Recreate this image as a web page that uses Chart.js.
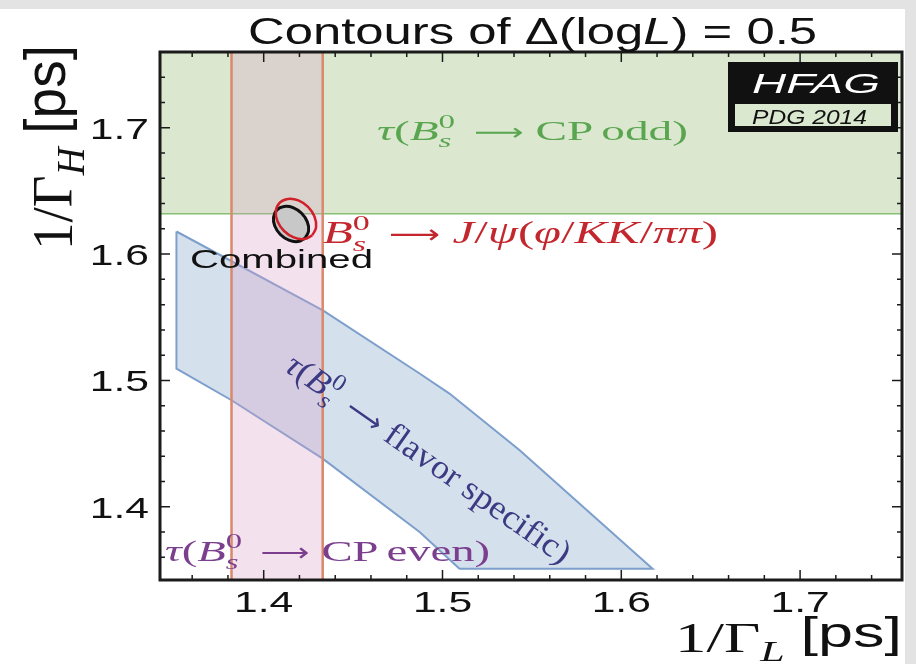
<!DOCTYPE html>
<html>
<head>
<meta charset="utf-8">
<script src="https://cdn.jsdelivr.net/npm/chart.js@4.4.1/dist/chart.umd.min.js"></script>
<style>
  html, body { margin: 0; padding: 0; background: #fff; }
  #wrap { width: 916px; height: 664px; }
</style>
</head>
<body>
<div id="wrap"><canvas id="chart" width="916" height="664"></canvas></div>
<script>
// axis ranges (1/Gamma_L on x, 1/Gamma_H on y), in ps
const xMin = 1.342, xMax = 1.757;
const yMin = 1.342, yMax = 1.760;
const xTicks = [1.4, 1.5, 1.6, 1.7];
const yTicks = [1.4, 1.5, 1.6, 1.7];
const xTickLabels = ['1.4', '1.5', '1.6', '1.7'];
const yTickLabels = ['1.4', '1.5', '1.6', '1.7'];

// tau(Bs -> CP odd): lower bound of the band
const cpOddLow = 1.632;
// tau(Bs -> CP even): band in 1/Gamma_L
const cpEvenLow = 1.382, cpEvenHigh = 1.433;

// tau(Bs -> flavor specific) contour
const flavorX = [1.3512, 1.4331, 1.4872, 1.5039, 1.5430, 1.6175, 1.5095, 1.4872, 1.4328, 1.3820, 1.3512, 1.3512];
const flavorY = [1.6179, 1.5555, 1.5055, 1.4896, 1.4449, 1.3510, 1.3510, 1.3800, 1.4383, 1.4843, 1.5094, 1.6179];

// combined contour
const combX = [1.4232, 1.4191, 1.4141, 1.4093, 1.4062, 1.4055, 1.4074, 1.4114, 1.4164, 1.4212, 1.4244, 1.4251, 1.4232];
const combY = [1.6127, 1.6099, 1.6110, 1.6155, 1.6222, 1.6293, 1.6350, 1.6377, 1.6368, 1.6323, 1.6255, 1.6184, 1.6127];

// Bs -> J/psi(phi/KK/pipi) contour
const jpsiX = [1.4272, 1.4226, 1.4168, 1.4114, 1.4077, 1.4068, 1.4090, 1.4135, 1.4194, 1.4248, 1.4284, 1.4293, 1.4272];
const jpsiY = [1.6149, 1.6119, 1.6132, 1.6183, 1.6260, 1.6342, 1.6407, 1.6437, 1.6425, 1.6373, 1.6297, 1.6214, 1.6149];

const pts = (xs, ys) => xs.map((x, i) => ({ x, y: ys[i] }));

const SERIF = '"Liberation Serif", "DejaVu Serif", serif';
const SANS = '"Liberation Sans", Arial, sans-serif';
const ARROW = '"DejaVu Sans", sans-serif';

function fontOf(s, size) {
  const fam = s.fam || (s.sans ? SANS : SERIF);
  return (s.it ? 'italic ' : '') + (size * (s.k || 1)).toFixed(1) + 'px ' + fam;
}

// lay out a run of text pieces (sub/superscripts, italics, mixed families);
// a piece with `w` is stretched to that many ems
function measure(ctx, segs, size) {
  let x = 0, held = 0;
  const pos = [], nat = [];
  segs.forEach(s => {
    x += (s.pad || 0) * size;
    ctx.font = fontOf(s, size);
    const n = ctx.measureText(s.t).width;
    const w = s.w ? s.w * size : n;
    pos.push(x); nat.push(n);
    if (s.hold) held = w;
    else { x += Math.max(w, held); held = 0; }
  });
  return { pos, nat, width: x };
}

function drawRich(ctx, segs, o) {
  const m = measure(ctx, segs, o.size);
  const sx = o.width ? o.width / m.width : (o.sx || 1);
  const start = o.align === 'center' ? -m.width / 2 : o.align === 'right' ? -m.width : 0;
  ctx.save();
  ctx.translate(o.x, o.y);
  if (o.angle) ctx.rotate(o.angle * Math.PI / 180);
  ctx.scale(sx, o.sy || 1);
  ctx.fillStyle = o.color || '#111';
  ctx.textAlign = 'left';
  ctx.textBaseline = 'alphabetic';
  segs.forEach((s, i) => {
    ctx.font = fontOf(s, o.size);
    const px = start + m.pos[i], py = (s.dy || 0) * o.size;
    if (s.w) {
      ctx.save();
      ctx.translate(px, py);
      ctx.scale(s.w * o.size / m.nat[i], 1);
      ctx.fillText(s.t, 0, 0);
      ctx.restore();
    } else {
      ctx.fillText(s.t, px, py);
    }
  });
  ctx.restore();
}

const Bs = [{ t: 'B', it: 1 }, { t: '0', k: 0.7, dy: -0.42, hold: 1 }, { t: 's', it: 1, k: 0.7, dy: 0.25 }];
const arrow = { t: '⟶', fam: ARROW, k: 0.85, w: 1.05, pad: 0.4 };
const afterArrow = 0.25;

const backdrop = {
  id: 'backdrop',
  beforeDraw(chart) {
    const ctx = chart.ctx;
    ctx.save();
    ctx.fillStyle = '#e3e3e3';
    ctx.fillRect(0, 0, chart.width, chart.height);
    ctx.fillStyle = '#ffffff';
    ctx.fillRect(0, 9, 905, chart.height - 9);
    ctx.restore();
  }
};

const frame = {
  id: 'frame',
  afterDatasetsDraw(chart) {
    const { ctx, chartArea: a, scales: { x, y } } = chart;
    ctx.save();
    ctx.strokeStyle = '#1b1b1b';
    ctx.lineWidth = 1.5;
    ctx.beginPath();
    for (let k = 68; k <= 87; k++) {
      const px = x.getPixelForValue(k / 50);
      const len = k % 5 === 0 ? 10 : 5;
      ctx.moveTo(px, a.bottom); ctx.lineTo(px, a.bottom - len);
      ctx.moveTo(px, a.top); ctx.lineTo(px, a.top + len);
    }
    for (let k = 68; k <= 87; k++) {
      const py = y.getPixelForValue(k / 50);
      const len = k % 5 === 0 ? 10 : 5;
      ctx.moveTo(a.left, py); ctx.lineTo(a.left + len, py);
      ctx.moveTo(a.right, py); ctx.lineTo(a.right - len, py);
    }
    ctx.stroke();
    ctx.lineWidth = 3;
    ctx.strokeRect(a.left, a.top, a.right - a.left, a.bottom - a.top);
    ctx.restore();
  }
};

const labels = {
  id: 'labels',
  afterDraw(chart) {
    const { ctx, scales: { x, y } } = chart;

    xTicks.forEach((v, i) => drawRich(ctx, [{ t: xTickLabels[i], sans: 1 }],
      { x: x.getPixelForValue(v), y: 612, size: 30, sx: 1.42, align: 'center' }));
    yTicks.forEach((v, i) => drawRich(ctx, [{ t: yTickLabels[i], sans: 1 }],
      { x: 149, y: y.getPixelForValue(v) + 11, size: 30, sx: 1.42, align: 'right' }));

    // title
    drawRich(ctx, [{ t: 'Contours of Δ(log', sans: 1 }, { t: 'L', sans: 1, it: 1 }, { t: ') = 0.5', sans: 1 }],
      { x: 248, y: 44, size: 37, width: 569 });

    // axis titles
    drawRich(ctx, [{ t: '1/Γ' }, { t: 'L', it: 1, k: 0.7, dy: 0.22 }, { t: '[ps]', sans: 1, pad: 0.25, dy: -0.12 }],
      { x: 902, y: 652, size: 42, width: 227, align: 'right' });
    drawRich(ctx, [{ t: '1/Γ' }, { t: 'H', it: 1, k: 0.7, dy: 0.22 }, { t: '[ps]', sans: 1, pad: 0.25, dy: -0.12 }],
      { x: 72, y: 250, size: 42, width: 205, sy: 1.35, angle: -90 });

    // HFAG badge
    ctx.save();
    ctx.fillStyle = '#111';
    ctx.fillRect(728, 62, 170, 70);
    ctx.fillStyle = '#d9e8cf';
    ctx.fillRect(735, 104, 156, 22);
    ctx.restore();
    drawRich(ctx, [{ t: 'HFAG', sans: 1, it: 1 }], { x: 752, y: 93, size: 28, width: 128, color: '#fff' });
    drawRich(ctx, [{ t: 'PDG 2014', sans: 1, it: 1 }], { x: 752, y: 124, size: 20, width: 115, color: '#111' });

    // contour labels
    drawRich(ctx, [{ t: 'τ', it: 1 }, { t: '(' }, ...Bs, arrow, { t: 'CP', pad: afterArrow }, { t: 'odd', pad: 0.17 }, { t: ')' }],
      { x: 377, y: 140, size: 28, width: 311, color: '#5aa550' });
    drawRich(ctx, [...Bs, arrow, { t: 'J', it: 1, pad: afterArrow }, { t: '/' }, { t: 'ψ', it: 1 }, { t: '(' }, { t: 'φ', it: 1 },
      { t: '/' }, { t: 'KK', it: 1 }, { t: '/' }, { t: 'ππ', it: 1 }, { t: ')' }],
      { x: 323, y: 243, size: 31, width: 395, color: '#c3262c' });
    drawRich(ctx, [{ t: 'Combined', sans: 1 }], { x: 190, y: 268, size: 26, width: 183, color: '#111' });
    drawRich(ctx, [{ t: 'τ', it: 1 }, { t: '(' }, ...Bs, arrow, { t: 'CP', pad: afterArrow }, { t: 'even', pad: 0.17 }, { t: ')' }],
      { x: 165, y: 561, size: 30, width: 325, color: '#7b3f8e' });
    drawRich(ctx, [{ t: 'τ', it: 1 }, { t: '(' }, ...Bs, arrow, { t: 'flavor specific', pad: afterArrow }, { t: ')' }],
      { x: 283, y: 370, size: 34, width: 340, angle: 35, color: '#3b3a82' });
  }
};

new Chart(document.getElementById('chart'), {
  type: 'line',
  data: {
    datasets: [
      {
        label: 'CP odd',
        data: pts([xMin - 0.01, xMax + 0.01], [cpOddLow, cpOddLow]),
        borderColor: '#86c173', borderWidth: 1.5,
        backgroundColor: '#dbe8cf', fill: 'end', order: 5
      },
      {
        label: 'flavor specific',
        data: pts(flavorX, flavorY),
        borderColor: '#7d9fcc', borderWidth: 2,
        backgroundColor: 'rgba(100,140,190,0.27)', fill: 'shape', order: 4
      },
      {
        label: 'CP even',
        data: pts([cpEvenLow, cpEvenHigh, cpEvenHigh, cpEvenLow, cpEvenLow],
                  [yMin - 0.01, yMin - 0.01, yMax + 0.01, yMax + 0.01, yMin - 0.01]),
        borderColor: '#d8896c', borderWidth: 2.5,
        backgroundColor: 'rgba(215,160,200,0.3)', fill: 'shape', order: 3
      },
      {
        label: 'Combined',
        data: pts(combX, combY),
        borderColor: '#111', borderWidth: 3, tension: 0.45,
        backgroundColor: '#c8c8c8', fill: 'shape', order: 2
      },
      {
        label: 'J/psi',
        data: pts(jpsiX, jpsiY),
        borderColor: '#d0202a', borderWidth: 2.5, tension: 0.45,
        fill: false, order: 1
      }
    ]
  },
  options: {
    responsive: false,
    animation: false,
    devicePixelRatio: 1,
    layout: { padding: { left: 160, top: 52, right: 14, bottom: 84 } },
    elements: { point: { radius: 0, hoverRadius: 0 } },
    scales: {
      x: { type: 'linear', min: xMin, max: xMax, display: false },
      y: { type: 'linear', min: yMin, max: yMax, display: false }
    },
    plugins: { legend: { display: false }, tooltip: { enabled: false }, title: { display: false } }
  },
  plugins: [backdrop, frame, labels]
});
</script>
</body>
</html>
